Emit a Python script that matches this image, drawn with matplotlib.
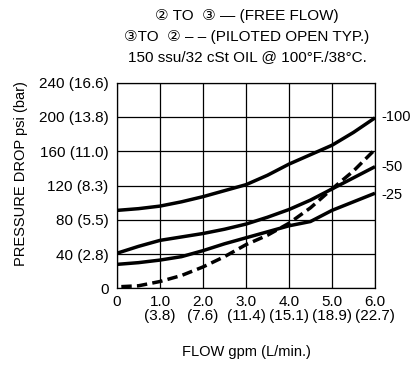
import matplotlib
matplotlib.use("Agg")
import matplotlib.pyplot as plt

plt.rcParams['font.family'] = ['Liberation Sans', 'DejaVu Sans']

# flow (gpm) and pressure drop (psi)
flow = [0, 0.5, 1, 1.5, 2, 2.5, 3, 3.5, 4, 4.5, 5, 5.5, 6]
p100 = [91, 93, 96, 101, 107, 114, 121, 132, 145, 156, 167, 182, 199]
p50 = [41, 49, 56, 60, 64, 69, 75, 83, 92, 103, 116, 129, 142]
p25 = [28, 30, 33, 37, 44, 52, 59, 66, 73, 78, 91, 101, 111]
flow_piloted = [0.1, 0.5, 1, 1.5, 2, 2.5, 3, 3.5, 4, 4.5, 5, 5.5, 6]
piloted = [2, 3, 8, 15, 25, 37, 51, 62, 76, 94, 116, 137, 162]

curve_labels = ['-100', '-50', '-25']
curve_label_y = [200, 142, 109]

xticks = [0, 1, 2, 3, 4, 5, 6]
xticklabels = ['0', '1.0\n(3.8)', '2.0\n(7.6)', '3.0\n(11.4)', '4.0\n(15.1)',
               '5.0\n(18.9)', '6.0\n(22.7)']
yticks = [0, 40, 80, 120, 160, 200, 240]
yticklabels = ['0', '40 (2.8)', '80 (5.5)', '120 (8.3)', '160 (11.0)',
               '200 (13.8)', '240 (16.6)']

fig = plt.figure(figsize=(4.16, 3.65), dpi=100)
ax = fig.add_axes([0.2813, 0.210, 0.6201, 0.5634])

for ys in (p100, p50, p25):
    ax.plot(flow, ys, color='black', lw=2.5, solid_capstyle='butt')
ax.plot(flow_piloted, piloted, color='black', lw=2.5, dashes=(3, 1.5))

ax.set_xlim(0, 6)
ax.set_ylim(0, 240)
ax.set_xticks(xticks)
ax.set_xticklabels(xticklabels, fontsize=11, linespacing=0.95)
ax.set_yticks(yticks)
ax.set_yticklabels(yticklabels, fontsize=11)
ax.tick_params(axis='y', length=0, pad=6)
ax.tick_params(axis='x', length=0, pad=5)
ax.grid(True, color='black', lw=0.9)
for s in ax.spines.values():
    s.set_linewidth(0.9)

for lab, yv in zip(curve_labels, curve_label_y):
    ax.text(6.15, yv, lab, fontsize=10.5, va='center', ha='left', clip_on=False)

ax.set_ylabel('PRESSURE DROP psi (bar)', fontsize=10.5)
ax.yaxis.set_label_coords(-0.345, 0.56)
ax.set_xlabel('FLOW gpm (L/min.)', fontsize=10.5, labelpad=16)

fig.text(0.594, 0.955, '② TO  ③ — (FREE FLOW)', ha='center', va='center', fontsize=11)
fig.text(0.594, 0.900, '③TO  ② – – (PILOTED OPEN TYP.)', ha='center', va='center', fontsize=11)
fig.text(0.594, 0.845, '150 ssu/32 cSt OIL @ 100°F./38°C.', ha='center', va='center', fontsize=11)

plt.savefig('out.png', dpi=100)
